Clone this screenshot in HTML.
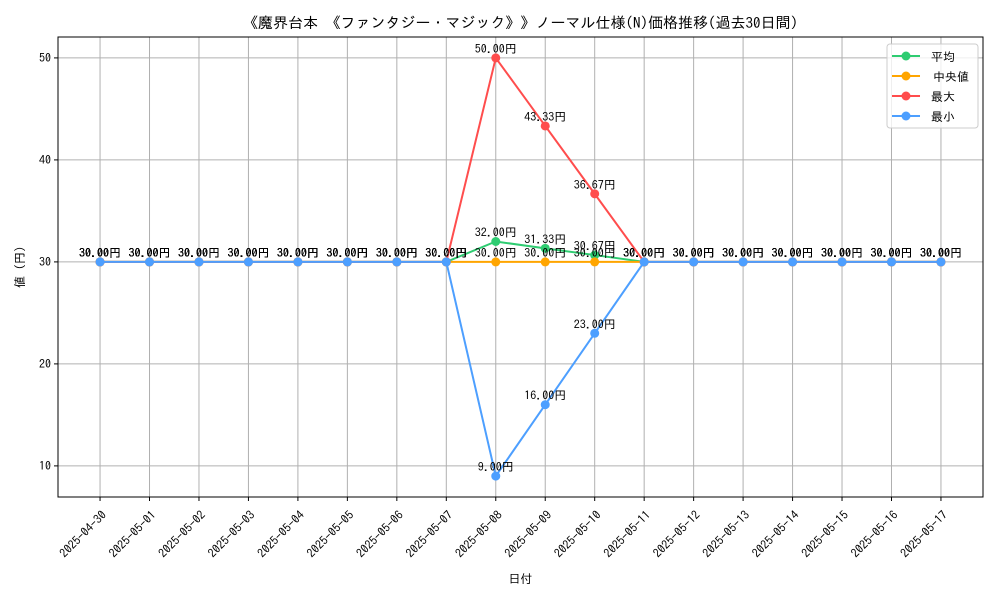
<!DOCTYPE html>
<html><head><meta charset="utf-8"><style>
body{margin:0;background:#fff}
svg{font-family:"IPAGothic","Noto Sans CJK JP",sans-serif}
</style></head><body>
<svg id="c" width="1000" height="600" xmlns="http://www.w3.org/2000/svg"></svg>
<script>
const dates=["2025-04-30","2025-05-01","2025-05-02","2025-05-03","2025-05-04","2025-05-05","2025-05-06","2025-05-07","2025-05-08","2025-05-09","2025-05-10","2025-05-11","2025-05-12","2025-05-13","2025-05-14","2025-05-15","2025-05-16","2025-05-17"];
const meanVals=[30,30,30,30,30,30,30,30,32,31.33,30.67,30,30,30,30,30,30,30];
const medianVals=[30,30,30,30,30,30,30,30,30,30,30,30,30,30,30,30,30,30];
const maxVals=[30,30,30,30,30,30,30,30,50,43.33,36.67,30,30,30,30,30,30,30];
const minVals=[30,30,30,30,30,30,30,30,9,16,23,30,30,30,30,30,30,30];
const yTicks=[10,20,30,40,50];
const seriesNames=["平均","中央値","最大","最小"];
const seriesKeys=["mean","median","max","min"];
const colors=["#2ecc71","#ffa500","#ff4d4d","#4d9fff"];
const all=[meanVals,medianVals,maxVals,minVals];
const L=58,R=983,T=37,B=497;
const ymin=6.95,ymax=52.05;
const X=i=>L+(R-L)*(i+0.85)/(dates.length-1+1.7);
const Y=v=>B-(B-T)*(v-ymin)/(ymax-ymin);
const s=document.getElementById('c');const NS="http://www.w3.org/2000/svg";
function el(t,a,p){const e=document.createElementNS(NS,t);for(const k in a)e.setAttribute(k,a[k]);(p||s).appendChild(e);return e;}
function tx(str,a){const e=el('text',a);e.textContent=str;return e;}
// grid
dates.forEach((d,i)=>{const g=el('line',{x1:X(i),x2:X(i),y1:T,y2:B,stroke:'#b0b0b0','stroke-width':1});

const tk=el('line',{x1:X(i),x2:X(i),y1:B,y2:B+4,stroke:'#000'});
const t=tx(d,{x:X(i),y:B+10,'font-size':12,'text-anchor':'end',transform:`rotate(-45 ${X(i)+4} ${B+10})`,dy:'0.7em'});
});
yTicks.forEach(v=>{const g=el('line',{x1:L,x2:R,y1:Y(v),y2:Y(v),stroke:'#b0b0b0'});

const tk=el('line',{x1:L-4,x2:L,y1:Y(v),y2:Y(v),stroke:'#000'});
const t=tx(v,{x:L-7,y:Y(v)+4,'font-size':12,'text-anchor':'end'});});
const fr=el('rect',{x:L,y:T,width:R-L,height:B-T,fill:'none',stroke:'#000'});
// series
all.forEach((vals,si)=>{const g=el('g',{});
const pl=el('polyline',{points:vals.map((v,i)=>X(i)+','+Y(v)).join(' '),fill:'none',stroke:colors[si],'stroke-width':2},g);

vals.forEach((v,i)=>{const c=el('circle',{cx:X(i),cy:Y(v),r:4.5,fill:colors[si]},g);});});
all.forEach((vals,si)=>{vals.forEach((v,i)=>{const t=tx(v.toFixed(2)+'円',{x:X(i),y:Y(v)-5,'font-size':12,'text-anchor':'middle'});
});});
// titles
let t=tx('《魔界台本 《ファンタジー・マジック》》ノーマル仕様(N)価格推移(過去30日間)',{x:(L+R)/2,y:28,'font-size':15,'text-anchor':'middle'});
t=tx('日付',{x:(L+R)/2,y:583,'font-size':12,'text-anchor':'middle'});
t=tx('値 (円)',{x:24,y:(T+B)/2,'font-size':12,'text-anchor':'middle',transform:`rotate(-90 24 ${(T+B)/2})`});
// legend
const lg=el('g',{});
el('rect',{x:887,y:44,width:91,height:84,rx:3,fill:'#fff','fill-opacity':0.8,stroke:'#ccc'},lg);
seriesNames.forEach((n,i)=>{const y=56+i*20;const e=el('g',{},lg);
el('line',{x1:892,x2:920,y1:y,y2:y,stroke:colors[i],'stroke-width':2},e);el('circle',{cx:906,cy:y,r:4.5,fill:colors[i]},e);
const tt=document.createElementNS(NS,'text');tt.setAttribute('x',i==1?933:931);tt.setAttribute('y',y+5);tt.setAttribute('font-size',12);tt.textContent=n;e.appendChild(tt);});
</script>
</body></html>
